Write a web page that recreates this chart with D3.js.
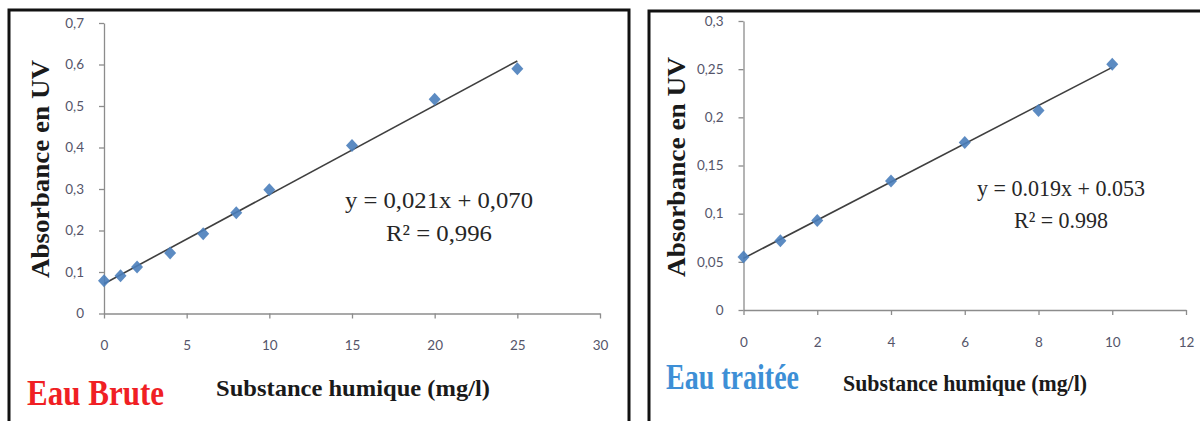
<!DOCTYPE html>
<html>
<head>
<meta charset="utf-8">
<script src="https://cdn.jsdelivr.net/npm/d3@7/dist/d3.min.js"></script>
<style>
  html, body { margin: 0; padding: 0; background: #fff; }
  svg { display: block; }
</style>
</head>
<body>
<svg id="chart" width="1200" height="421"></svg>
<script>
// Courbes d'étalonnage : absorbance UV en fonction de la substance humique
const bruteX = [0, 1, 2, 4, 6, 8, 10, 15, 20, 25];
const bruteY = [0.079, 0.091, 0.112, 0.146, 0.192, 0.243, 0.298, 0.405, 0.516, 0.590];
const bruteXTicks = [0, 5, 10, 15, 20, 25, 30];
const bruteYTicks = [0, 0.1, 0.2, 0.3, 0.4, 0.5, 0.6, 0.7];
const bruteEquation = ["y = 0,021x + 0,070", "R² = 0,996"];

const traiteeX = [0, 1, 2, 4, 6, 8, 10];
const traiteeY = [0.055, 0.072, 0.093, 0.134, 0.174, 0.207, 0.255];
const traiteeXTicks = [0, 2, 4, 6, 8, 10, 12];
const traiteeYTicks = [0, 0.05, 0.1, 0.15, 0.2, 0.25, 0.3];
const traiteeEquation = ["y = 0.019x + 0.053", "R² = 0.998"];

const yTitle = "Absorbance en UV";
const xTitle = "Substance humique (mg/l)";
const panelTitles = ["Eau Brute", "Eau traitée"];

const svg = d3.select("#chart");
const serif = "'Liberation Serif', 'Times New Roman', serif";
const tickFont = "Lato, 'Open Sans', sans-serif";

// comma decimal separator for the axis labels
const fmt = d => String(+d.toFixed(3)).replace(".", ",");

// ordinary least-squares fit, as drawn by the trendline
function fit(xs, ys) {
  const n = xs.length, mx = d3.mean(xs), my = d3.mean(ys);
  let sxy = 0, sxx = 0;
  for (let i = 0; i < n; i++) { sxy += (xs[i] - mx) * (ys[i] - my); sxx += (xs[i] - mx) ** 2; }
  const a = sxy / sxx;
  return { a, b: my - a * mx };
}

const panels = [
  {
    xs: bruteX, ys: bruteY, xTicks: bruteXTicks, yTicks: bruteYTicks, eq: bruteEquation,
    title: panelTitles[0], titleColor: "#f01f24",
    frame: { x: 9, y: 10, w: 620, h: 430 },
    xRange: [104, 600], yRange: [313.5, 23],
    yTitleX: 49, yTitleY: 169, yTitleLen: 218,
    xTitleX: 353, xTitleY: 396, xTitleLen: 274,
    pTitleX: 27, pTitleY: 405, pTitleLen: 137,
    eqX: 439, eqY: [208, 241], eqLen: [188, 106]
  },
  {
    xs: traiteeX, ys: traiteeY, xTicks: traiteeXTicks, yTicks: traiteeYTicks, eq: traiteeEquation,
    title: panelTitles[1], titleColor: "#3d8fd6",
    frame: { x: 649, y: 11, w: 570, h: 430 },
    xRange: [743.5, 1186], yRange: [310, 21],
    yTitleX: 685, yTitleY: 167, yTitleLen: 220,
    xTitleX: 965, xTitleY: 391, xTitleLen: 244,
    pTitleX: 666, pTitleY: 389, pTitleLen: 133,
    eqX: 1061, eqY: [196, 228], eqLen: [168, 94]
  }
];

panels.forEach(p => {
  const g = svg.append("g");

  // panel frame
  g.append("rect")
    .attr("x", p.frame.x).attr("y", p.frame.y)
    .attr("width", p.frame.w).attr("height", p.frame.h)
    .attr("fill", "#fff").attr("stroke", "#111").attr("stroke-width", 3);

  const x = d3.scaleLinear().domain(d3.extent(p.xTicks)).range(p.xRange);
  const y = d3.scaleLinear().domain(d3.extent(p.yTicks)).range(p.yRange);

  const xAxis = g.append("g")
    .attr("transform", `translate(0,${p.yRange[0]})`)
    .call(d3.axisBottom(x).tickValues(p.xTicks).tickSize(5).tickPadding(22).tickSizeOuter(0).tickFormat(d => d));
  const yAxis = g.append("g")
    .attr("transform", `translate(${p.xRange[0]},0)`)
    .call(d3.axisLeft(y).tickValues(p.yTicks).tickSize(5).tickPadding(15).tickSizeOuter(0).tickFormat(fmt));

  [xAxis, yAxis].forEach(ax => {
    ax.select(".domain").attr("stroke", "#8c8c8c").attr("stroke-width", 1.3);
    ax.selectAll(".tick line").attr("stroke", "#8c8c8c").attr("stroke-width", 1.3);
    ax.selectAll(".tick text")
      .attr("fill", "#55556a").attr("font-family", tickFont).attr("font-size", 13.5);
  });

  // trendline over the range of the measurements
  const { a, b } = fit(p.xs, p.ys);
  const [x0, x1] = d3.extent(p.xs);
  g.append("line")
    .attr("x1", x(x0)).attr("y1", y(a * x0 + b))
    .attr("x2", x(x1)).attr("y2", y(a * x1 + b))
    .attr("stroke", "#3f3f3f").attr("stroke-width", 1.6);

  // diamond markers
  const diamond = "M0,-6.5L6,0L0,6.5L-6,0Z";
  g.append("g").selectAll("path")
    .data(p.xs.map((v, i) => [v, p.ys[i]]))
    .join("path")
    .attr("d", diamond)
    .attr("transform", d => `translate(${x(d[0])},${y(d[1])})`)
    .attr("fill", "#4a7ebb").attr("opacity", 0.9);

  // regression equation
  p.eq.forEach((t, i) => {
    g.append("text")
      .attr("x", p.eqX).attr("y", p.eqY[i])
      .attr("text-anchor", "middle")
      .attr("font-family", serif).attr("font-size", 23.5)
      .attr("fill", "#262626")
      .attr("textLength", p.eqLen[i]).attr("lengthAdjust", "spacingAndGlyphs")
      .text(t);
  });

  // axis titles
  g.append("text")
    .attr("transform", `translate(${p.yTitleX},${p.yTitleY}) rotate(-90)`)
    .attr("text-anchor", "middle")
    .attr("font-family", serif).attr("font-weight", "bold").attr("font-size", 24.5)
    .attr("fill", "#1a1a1a")
    .attr("textLength", p.yTitleLen).attr("lengthAdjust", "spacingAndGlyphs")
    .text(yTitle);

  g.append("text")
    .attr("x", p.xTitleX).attr("y", p.xTitleY)
    .attr("text-anchor", "middle")
    .attr("font-family", serif).attr("font-weight", "bold").attr("font-size", 23.5)
    .attr("fill", "#1a1a1a")
    .attr("textLength", p.xTitleLen).attr("lengthAdjust", "spacingAndGlyphs")
    .text(xTitle);

  // panel label
  g.append("text")
    .attr("x", p.pTitleX).attr("y", p.pTitleY)
    .attr("font-family", serif).attr("font-weight", "bold").attr("font-size", 35)
    .attr("fill", p.titleColor)
    .attr("textLength", p.pTitleLen).attr("lengthAdjust", "spacingAndGlyphs")
    .text(p.title);
});
</script>
</body>
</html>
